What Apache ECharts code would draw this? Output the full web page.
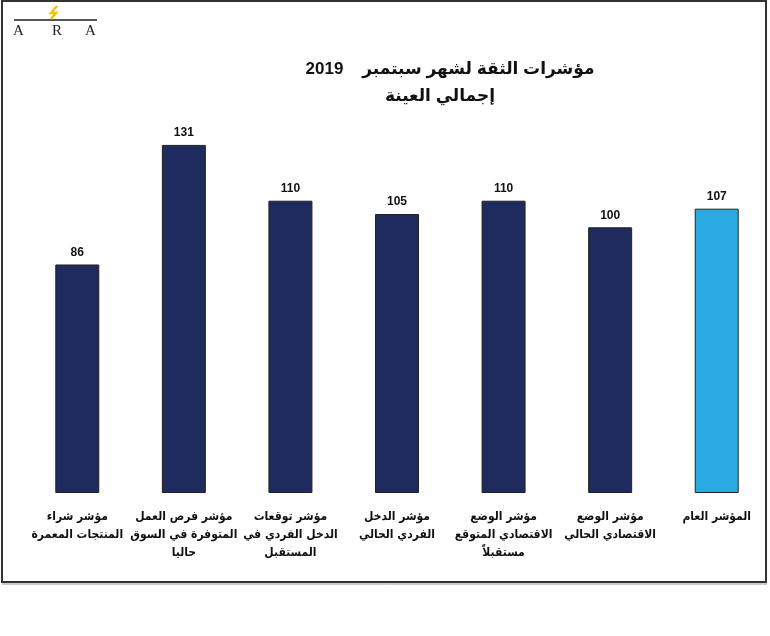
<!DOCTYPE html>
<html>
<head>
<meta charset="utf-8">
<script src="https://cdn.jsdelivr.net/npm/echarts@6/dist/echarts.min.js"></script>
<style>
  html, body { margin: 0; padding: 0; background: #fff; }
  #chart { width: 770px; height: 636px; }
</style>
</head>
<body>
<div id="chart"></div>
<script>
// values, left to right
const categories = [
    'مؤشر شراء\nالمنتجات المعمرة',
    'مؤشر فرص العمل\nالمتوفرة في السوق\nحاليا',
    'مؤشر توقعات\nالدخل الفردي في\nالمستقبل',
    'مؤشر الدخل\nالفردي الحالي',
    'مؤشر الوضع\nالاقتصادي المتوقع\nمستقبلاً',
    'مؤشر الوضع\nالاقتصادي الحالي',
    'المؤشر العام'
];
const values = [86, 131, 110, 105, 110, 100, 107];
const highlightIndex = 6;

const navy = '#1f2a5f';
const lightBlue = '#29abe2';
const font = '"Liberation Sans", "DejaVu Sans", sans-serif';
const labelFont = '"DejaVu Sans Condensed", "DejaVu Sans", sans-serif';

let myChart = echarts.init(document.getElementById('chart'));

let barData = values.map(function (v, i) {
    return {
        value: v,
        itemStyle: { color: i === highlightIndex ? lightBlue : navy }
    };
});

function logoLetter(ch, x) {
    return {
        type: 'text',
        left: x,
        top: 24,
        style: { text: ch, font: '15px "Liberation Serif", serif', fill: '#222' }
    };
}

let option = {
    backgroundColor: '#fff',
    animation: false,
    textStyle: { fontFamily: font },
    title: [
        {
            text: 'مؤشرات الثقة لشهر سبتمبر    2019',
            left: 445,
            top: 56,
            textAlign: 'center',
            textStyle: { fontSize: 17, fontWeight: 'bold', color: '#111', fontFamily: font }
        },
        {
            text: 'إجمالي العينة',
            left: 435,
            top: 83,
            textAlign: 'center',
            textStyle: { fontSize: 17, fontWeight: 'bold', color: '#111', fontFamily: font }
        }
    ],
    grid: { left: 24, top: 121, width: 747, height: 372, containLabel: false },
    xAxis: {
        type: 'category',
        data: categories,
        axisLine: { show: false },
        axisTick: { show: false },
        axisLabel: {
            interval: 0,
            margin: 15,
            color: '#111',
            fontSize: 12,
            fontWeight: 'bold',
            lineHeight: 18,
            fontFamily: labelFont
        }
    },
    yAxis: {
        type: 'value',
        min: 0,
        max: 140,
        show: false,
        splitLine: { show: false }
    },
    series: [{
        type: 'bar',
        data: barData,
        barWidth: 44,
        itemStyle: { borderColor: '#222', borderWidth: 1 },
        label: {
            show: true,
            position: 'top',
            distance: 6,
            color: '#111',
            fontSize: 12,
            fontWeight: 'bold',
            fontFamily: font
        }
    }],
    graphic: [
        // frame
        {
            type: 'rect',
            shape: { x: 2, y: 1, width: 764, height: 581 },
            style: { fill: null, stroke: '#333', lineWidth: 2 },
            silent: true
        },
        {
            type: 'line',
            shape: { x1: 2, y1: 584, x2: 767, y2: 584 },
            style: { stroke: '#999', lineWidth: 1 }
        },
        // logo
        {
            type: 'line',
            shape: { x1: 14, y1: 20, x2: 97, y2: 20 },
            style: { stroke: '#555', lineWidth: 2 }
        },
        {
            type: 'polyline',
            shape: { points: [[57, 6], [51, 13], [56, 13], [51, 19]] },
            style: { stroke: '#f2c400', lineWidth: 2.5, fill: null }
        },
        logoLetter('A', 13),
        logoLetter('R', 52),
        logoLetter('A', 85)
    ]
};

myChart.setOption(option);
</script>
</body>
</html>
